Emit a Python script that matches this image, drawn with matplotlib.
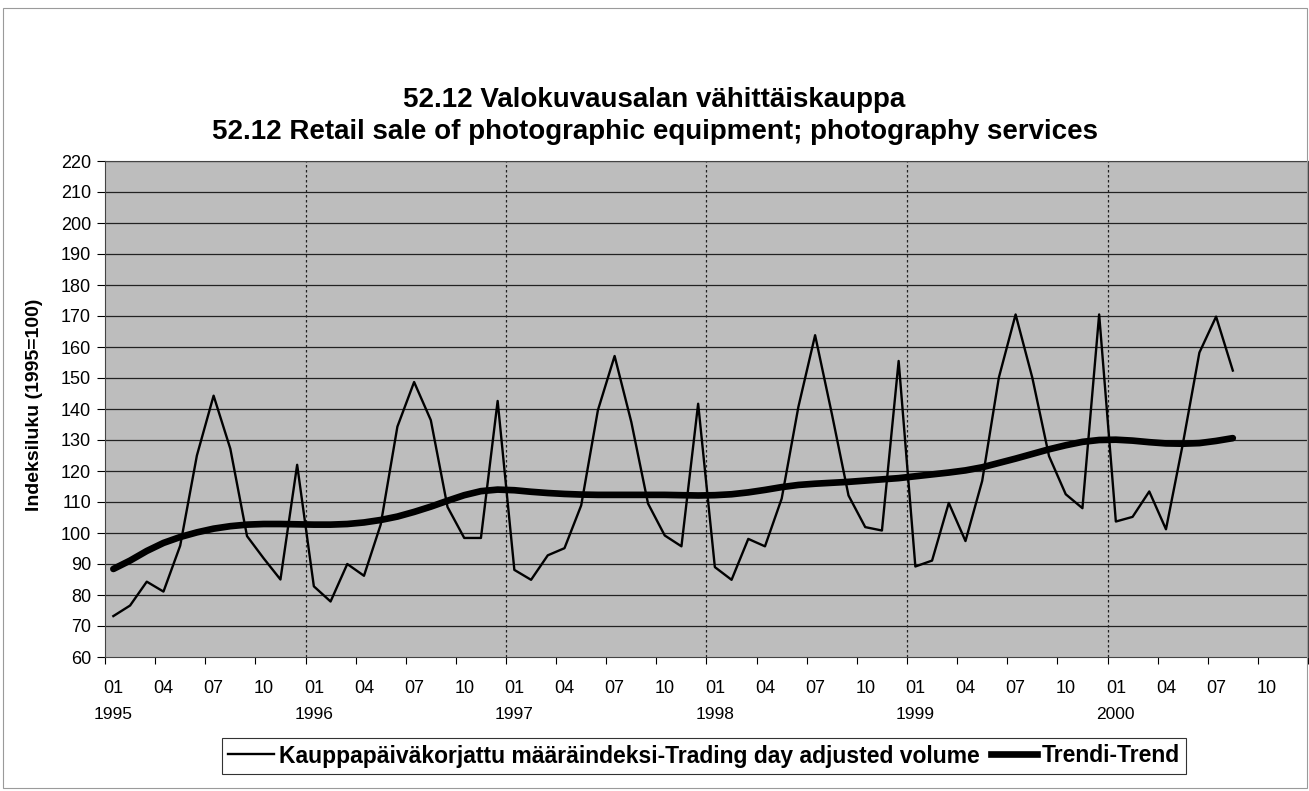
import matplotlib
matplotlib.use("Agg")
import matplotlib.pyplot as plt
from matplotlib.patches import Rectangle
from matplotlib.lines import Line2D

plt.rcParams['font.family'] = ['Liberation Sans', 'DejaVu Sans']

title_lines = ["52.12 Valokuvausalan vähittäiskauppa",
               "52.12 Retail sale of photographic equipment; photography services"]
ylabel = "Indeksiluku (1995=100)"
legend_labels = ["Kauppapäiväkorjattu määräindeksi-Trading day adjusted volume",
                 "Trendi-Trend"]

years = [1995, 1996, 1997, 1998, 1999, 2000]
month_labels = ["01", "04", "07", "10"]

volume = [73.2, 76.6, 84.3, 81.1, 95.9, 125.0, 144.3, 127.2, 99.0, 91.8, 85.0, 122.0,
          82.8, 77.9, 90.0, 86.2, 102.7, 134.3, 148.7, 136.4, 108.4, 98.4, 98.4, 142.6,
          88.1, 84.9, 92.8, 95.1, 108.9, 139.6, 157.1, 135.8, 109.5, 99.2, 95.7, 141.7,
          89.0, 84.9, 98.1, 95.7, 111.1, 140.7, 163.8, 138.5, 112.1, 101.9, 100.8, 155.5,
          89.2, 91.1, 109.7, 97.4, 116.8, 150.2, 170.5, 150.1, 124.8, 112.5, 108.0, 170.5,
          103.7, 105.2, 113.4, 101.2, 128.5, 158.2, 169.8, 152.4]

trend = [88.4, 91.1, 94.2, 96.8, 98.7, 100.2, 101.4, 102.2, 102.7, 102.9, 102.9, 102.8,
         102.7, 102.7, 102.9, 103.4, 104.2, 105.3, 106.8, 108.5, 110.4, 112.2, 113.5, 114.0,
         113.8, 113.3, 112.9, 112.6, 112.4, 112.3, 112.3, 112.3, 112.3, 112.3, 112.2, 112.1,
         112.2, 112.5, 113.1, 113.9, 114.8, 115.5, 115.9, 116.2, 116.5, 116.9, 117.3, 117.7,
         118.3, 118.9, 119.5, 120.2, 121.2, 122.6, 124.0, 125.5, 127.0, 128.3, 129.4, 130.0,
         130.1, 129.8, 129.3, 128.9, 128.8, 129.0, 129.7, 130.6]

n_cat = 12 * len(years)
W, H = 1309, 791
fig = plt.figure(figsize=(W / 100, H / 100), dpi=100)
fig.patch.set_facecolor('white')

# outer chart border
fig.add_artist(Rectangle((3 / W, 3 / H), (W - 5) / W, (H - 11) / H, transform=fig.transFigure,
                         fill=False, edgecolor='#9a9a9a', linewidth=0.8))

ax = fig.add_axes([105 / W, (H - 657) / H, 1203 / W, 496 / H])
ax.set_facecolor('#bdbdbd')

x = list(range(len(volume)))
ax.plot(x, volume, color='black', linewidth=1.7, zorder=3)
ax.plot(list(range(len(trend))), trend, color='black', linewidth=4.8,
        solid_capstyle='round', zorder=4)

ax.set_xlim(-0.5, n_cat - 0.5)
ax.set_ylim(60, 220)
ax.set_yticks(range(60, 221, 10))
ax.tick_params(axis='y', labelsize=13, length=6, width=0.8, direction='out', pad=4)
for yv in range(70, 221, 10):
    ax.axhline(yv, color='#222222', linewidth=0.9, zorder=1)
for k in range(1, len(years)):
    ax.axvline(12 * k - 0.5, color='#222222', linewidth=0.9, linestyle=(0, (2, 2)), zorder=1)

# x ticks at boundaries, labels at category centers
ax.set_xticks([i - 0.5 for i in range(0, n_cat + 1, 3)])
ax.set_xticklabels([])
ax.tick_params(axis='x', length=5, width=0.8, direction='out')
trans = ax.get_xaxis_transform()
for yi, yr in enumerate(years):
    for mi, ml in enumerate(month_labels):
        idx = yi * 12 + mi * 3
        ax.text(idx, -0.046, ml, transform=trans, ha='center', va='top', fontsize=13)
    ax.text(yi * 12, -0.1, str(yr), transform=trans, ha='center', va='top', fontsize=12.5)

for s in ax.spines.values():
    s.set_color('#444444')
    s.set_linewidth(0.8)

fig.text(35 / W, 1 - 405 / H, ylabel, rotation=90, ha='center', va='center',
         fontsize=14, fontweight='bold')
fig.text(0.5, 1 - 100 / H, title_lines[0], ha='center', va='center', fontsize=20, fontweight='bold')
fig.text(0.5, 1 - 132 / H, title_lines[1], ha='center', va='center', fontsize=20, fontweight='bold')

handles = [Line2D([], [], color='black', linewidth=1.7),
           Line2D([], [], color='black', linewidth=4.8)]
leg = fig.legend(handles, legend_labels, loc='center', bbox_to_anchor=(704 / W, 1 - 756 / H),
                 ncol=2, frameon=True, fancybox=False, edgecolor='black',
                 prop={'weight': 'bold', 'size': 16.5}, handlelength=2.0, handletextpad=0.2,
                 columnspacing=0.5, borderpad=0.3)
leg.get_frame().set_linewidth(0.8)

fig.savefig('out.png', dpi=100)
